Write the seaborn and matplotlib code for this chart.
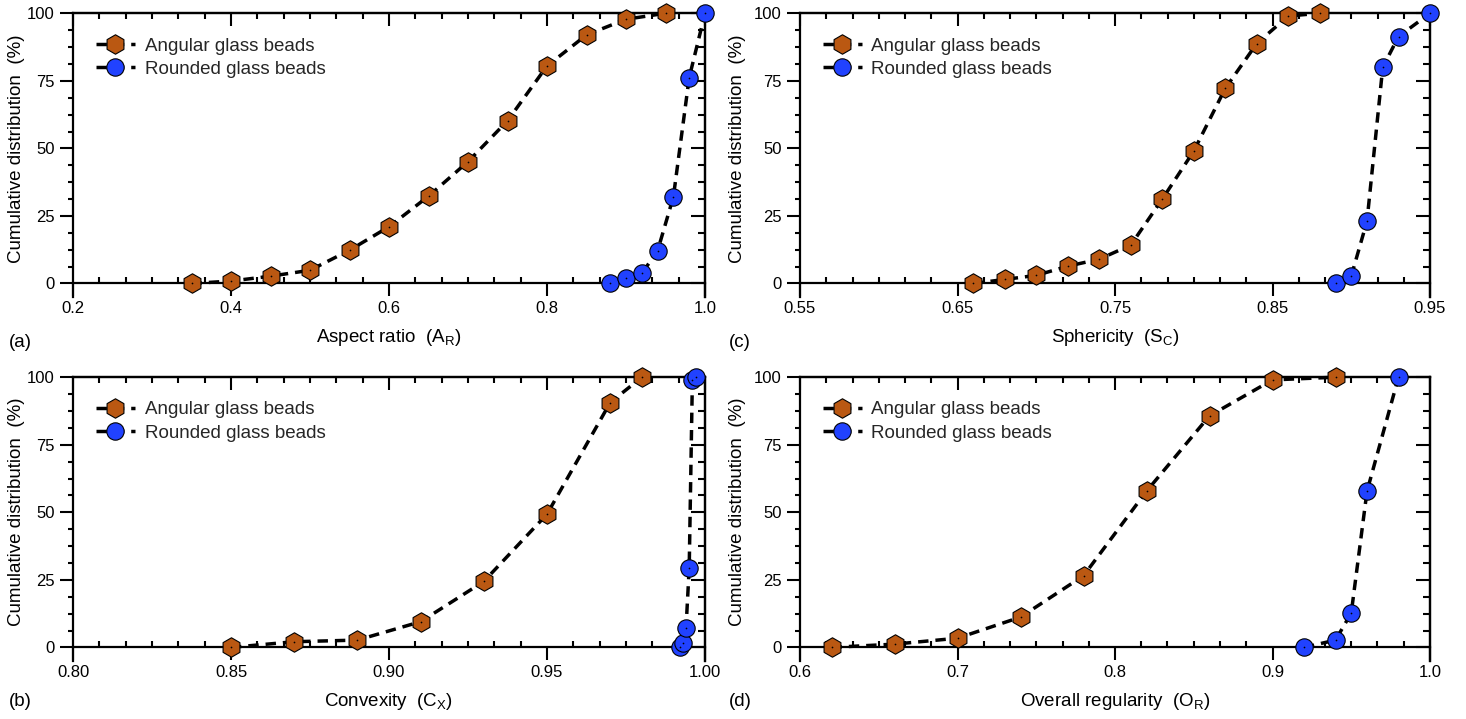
import matplotlib
matplotlib.use("Agg")
import matplotlib.pyplot as plt
import seaborn as sns
from matplotlib.ticker import FixedLocator, AutoMinorLocator, MultipleLocator

# ---------------- data ----------------
# (a) Aspect ratio
ar_ang_x = [0.35, 0.40, 0.45, 0.50, 0.55, 0.60, 0.65, 0.70, 0.75, 0.80, 0.85, 0.90, 0.95]
ar_ang_y = [0.0, 0.9, 2.7, 4.9, 12.3, 21.0, 32.3, 45.1, 60.2, 80.5, 92.0, 97.8, 100.0]
ar_rnd_x = [0.88, 0.90, 0.92, 0.94, 0.96, 0.98, 1.00]
ar_rnd_y = [0.0, 1.9, 3.7, 12.1, 32.1, 76.2, 100.0]
ar_xticks = [0.2, 0.4, 0.6, 0.8, 1.0]
ar_xticklabels = ["0.2", "0.4", "0.6", "0.8", "1.0"]

# (c) Sphericity
sc_ang_x = [0.66, 0.68, 0.70, 0.72, 0.74, 0.76, 0.78, 0.80, 0.82, 0.84, 0.86, 0.88]
sc_ang_y = [0.0, 1.5, 3.0, 6.4, 9.0, 14.2, 31.2, 49.0, 72.2, 88.8, 99.0, 100.0]
sc_rnd_x = [0.89, 0.90, 0.91, 0.92, 0.93, 0.95]
sc_rnd_y = [0.0, 2.7, 23.1, 80.0, 91.4, 100.0]
sc_xticks = [0.55, 0.65, 0.75, 0.85, 0.95]
sc_xticklabels = ["0.55", "0.65", "0.75", "0.85", "0.95"]

# (b) Convexity
cx_ang_x = [0.85, 0.87, 0.89, 0.91, 0.93, 0.95, 0.97, 0.98]
cx_ang_y = [0.0, 2.1, 2.7, 9.5, 24.4, 49.3, 90.6, 100.0]
cx_rnd_x = [0.992, 0.993, 0.994, 0.995, 0.996, 0.997]
cx_rnd_y = [0.0, 1.8, 7.3, 29.3, 98.8, 100.0]
cx_xticks = [0.80, 0.85, 0.90, 0.95, 1.00]
cx_xticklabels = ["0.80", "0.85", "0.90", "0.95", "1.00"]

# (d) Overall regularity
or_ang_x = [0.62, 0.66, 0.70, 0.74, 0.78, 0.82, 0.86, 0.90, 0.94]
or_ang_y = [0.0, 1.2, 3.4, 11.2, 26.5, 57.8, 85.7, 99.0, 100.0]
or_rnd_x = [0.92, 0.94, 0.95, 0.96, 0.98]
or_rnd_y = [0.0, 2.7, 12.7, 57.8, 100.0]
or_xticks = [0.6, 0.7, 0.8, 0.9, 1.0]
or_xticklabels = ["0.6", "0.7", "0.8", "0.9", "1.0"]

series_labels = ["Angular glass beads", "Rounded glass beads"]
y_label = "Cumulative distribution  (%)"
y_ticks = [0, 25, 50, 75, 100]
y_ticklabels = ["0", "25", "50", "75", "100"]

ORANGE = "#BA5812"
BLUE = "#2142FF"

# ---------------- style ----------------
sns.set_theme(style="ticks")
plt.rcParams["font.family"] = ["Liberation Sans", "DejaVu Sans"]
plt.rcParams["mathtext.default"] = "regular"
plt.rcParams["mathtext.fontset"] = "custom"
plt.rcParams["mathtext.rm"] = "Liberation Sans"

FS_LAB = 13.5
FS_LEG = 13.5
FS_TICK = 12
LW_AX = 1.6

fig = plt.figure(figsize=(14.66, 7.19), dpi=100)

H = 283.7 / 719
W_L = 632 / 1466
W_R = 630 / 1466
positions = {
    "a": [73 / 1466, 1 - 297 / 719, W_L, H],
    "c": [800 / 1466, 1 - 297 / 719, W_R, H],
    "b": [73 / 1466, 1 - 660.9 / 719, W_L, H],
    "d": [800 / 1466, 1 - 660.9 / 719, W_R, H],
}


def draw(key, xa, ya, xr, yr, xticks, xticklabels, xlabel, ylab_x):
    ax = fig.add_axes(positions[key])
    dash = (0, (3.0, 2.0))
    sns.lineplot(x=xa, y=ya, ax=ax, color="black", linestyle=dash, linewidth=2.5,
                 marker="h", markersize=14, markerfacecolor=ORANGE,
                 markeredgecolor="black", markeredgewidth=0.8,
                 label=series_labels[0], errorbar=None, clip_on=False, zorder=5)
    sns.lineplot(x=xr, y=yr, ax=ax, color="black", linestyle=dash, linewidth=2.5,
                 marker="o", markersize=12.5, markerfacecolor=BLUE,
                 markeredgecolor="black", markeredgewidth=0.8,
                 label=series_labels[1], errorbar=None, clip_on=False, zorder=5)
    # tiny centre dots
    for xs, ys in ((xa, ya), (xr, yr)):
        sns.scatterplot(x=xs, y=ys, ax=ax, color="black", s=1.5, linewidth=0,
                        legend=False, zorder=6, clip_on=False)

    ax.set_xlim(xticks[0], xticks[-1])
    ax.set_ylim(-5, 100)
    ax.spines["bottom"].set_position(("data", 0))
    for s in ax.spines.values():
        s.set_linewidth(LW_AX)
        s.set_color("black")

    ax.set_xticks(xticks)
    ax.set_xticklabels(xticklabels)
    ax.xaxis.set_minor_locator(AutoMinorLocator(6))
    ax.set_yticks(y_ticks)
    ax.set_yticklabels(y_ticklabels)
    ax.yaxis.set_minor_locator(MultipleLocator(6.25))

    ax.tick_params(axis="x", which="major", direction="out", length=9.5, width=1.5,
                   labelsize=FS_TICK, pad=3, bottom=True, top=False,
                   color="black", labelcolor="black")
    ax.tick_params(axis="x", which="minor", direction="in", length=4.3, width=1.5,
                   bottom=True, top=False, color="black")
    ax.tick_params(axis="y", which="major", direction="out", length=9.5, width=1.5,
                   labelsize=FS_TICK, pad=3.5, left=True, right=False,
                   color="black", labelcolor="black")
    ax.tick_params(axis="y", which="minor", direction="out", length=3.8, width=1.5,
                   left=True, right=False, color="black")

    sec_x = ax.secondary_xaxis("top")
    sec_x.xaxis.set_major_locator(FixedLocator(xticks))
    sec_x.xaxis.set_minor_locator(AutoMinorLocator(6))
    sec_x.tick_params(axis="x", which="major", direction="in", length=9.5, width=1.5,
                      labeltop=False, labelbottom=False, color="black")
    sec_x.tick_params(axis="x", which="minor", direction="in", length=4.3, width=1.5,
                      color="black")
    sec_x.spines["top"].set_linewidth(LW_AX)
    sec_x.spines["top"].set_color("black")

    sec_y = ax.secondary_yaxis("right")
    sec_y.yaxis.set_major_locator(FixedLocator(y_ticks))
    sec_y.yaxis.set_minor_locator(MultipleLocator(6.25))
    sec_y.tick_params(axis="y", which="major", direction="in", length=10, width=1.5,
                      labelright=False, labelleft=False, color="black")
    sec_y.tick_params(axis="y", which="minor", direction="in", length=5, width=1.5,
                      color="black")
    sec_y.spines["right"].set_linewidth(LW_AX)
    sec_y.spines["right"].set_color("black")

    ax.set_xlabel(xlabel, fontsize=FS_LAB, color="black")
    ax.xaxis.set_label_coords(0.5, -0.105)
    ax.set_ylabel(y_label, fontsize=FS_LAB, color="black")
    ax.yaxis.set_label_coords(ylab_x, 0.524)

    ax.legend(loc="upper left", bbox_to_anchor=(0.036, 0.915), frameon=False,
              fontsize=FS_LEG, handlelength=2.1, handletextpad=0.5,
              labelspacing=0.32, borderpad=0, borderaxespad=0, numpoints=1)
    return ax


draw("a", ar_ang_x, ar_ang_y, ar_rnd_x, ar_rnd_y, ar_xticks, ar_xticklabels,
     r"Aspect ratio  (A$_R$)", -0.076)
draw("c", sc_ang_x, sc_ang_y, sc_rnd_x, sc_rnd_y, sc_xticks, sc_xticklabels,
     r"Sphericity  (S$_C$)", -0.086)
draw("b", cx_ang_x, cx_ang_y, cx_rnd_x, cx_rnd_y, cx_xticks, cx_xticklabels,
     r"Convexity  (C$_X$)", -0.076)
draw("d", or_ang_x, or_ang_y, or_rnd_x, or_rnd_y, or_xticks, or_xticklabels,
     r"Overall regularity  (O$_R$)", -0.086)

for lab, x, y in (("(a)", 9, 342), ("(c)", 729, 342), ("(b)", 9, 702), ("(d)", 729, 702)):
    fig.text(x / 1466, 1 - y / 719, lab, fontsize=FS_LAB, ha="left", va="center",
             color="black")

fig.savefig("out.png", dpi=100)
